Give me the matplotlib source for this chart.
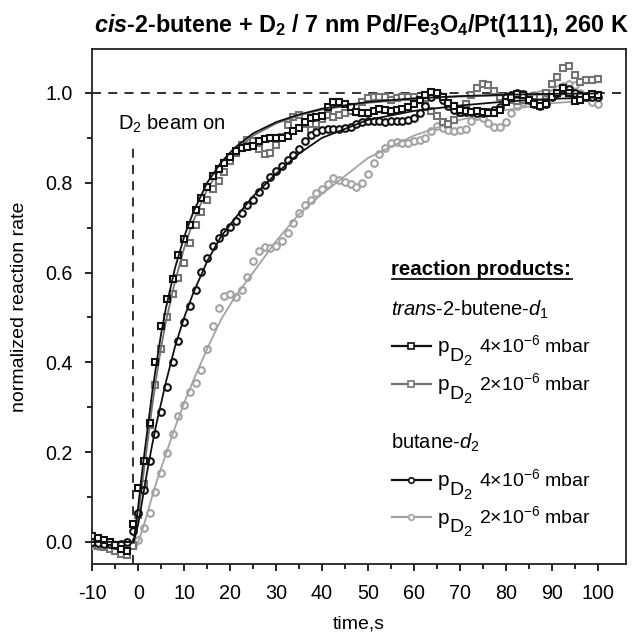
import numpy as np
import matplotlib
matplotlib.use("Agg")
import matplotlib.pyplot as plt
from matplotlib.lines import Line2D

plt.rcParams['font.family'] = ['Liberation Sans', 'DejaVu Sans']
plt.rcParams['mathtext.fontset'] = 'custom'
plt.rcParams['mathtext.rm'] = 'Liberation Sans'
plt.rcParams['mathtext.it'] = 'Liberation Sans:italic'
plt.rcParams['mathtext.bf'] = 'Liberation Sans:bold'
plt.rcParams['mathtext.bfit'] = 'Liberation Sans:italic:bold'
plt.rcParams['axes.unicode_minus'] = False

# sampling times of the measured points (s)
t = np.arange(-10, 100.01, 1.25)

# trans-2-butene-d1, p(D2) = 4e-6 mbar
trans_hi = [0.012, 0.008, 0.004, 0.0, -0.008, -0.015, -0.02, 0.04,
            0.12, 0.18, 0.265, 0.40, 0.48, 0.54, 0.585, 0.638,
            0.675, 0.705, 0.74, 0.765, 0.79, 0.815, 0.83, 0.845,
            0.857, 0.87, 0.878, 0.879, 0.882, 0.892, 0.897, 0.90,
            0.90, 0.90, 0.905, 0.916, 0.923, 0.935, 0.944, 0.946,
            0.948, 0.968, 0.98, 0.981, 0.976, 0.968, 0.958, 0.955,
            0.955, 0.96, 0.965, 0.962, 0.96, 0.962, 0.965, 0.968,
            0.975, 0.985, 0.995, 1.003, 1.0, 0.99, 0.978, 0.97,
            0.962, 0.96, 0.958, 0.96, 0.958, 0.955, 0.955, 0.962,
            0.98, 0.992, 0.998, 0.995, 0.985, 0.975, 0.972, 0.975,
            0.99, 1.0, 1.012, 1.0, 0.982, 0.985, 0.99, 0.998,
            0.995]
# trans-2-butene-d1, p(D2) = 2e-6 mbar
trans_lo = [-0.005, -0.01, -0.012, -0.015, -0.02, -0.028, -0.03, -0.01,
            0.06, 0.13, 0.26, 0.35, 0.43, 0.50, 0.552, 0.588,
            0.622, 0.665, 0.705, 0.735, 0.762, 0.785, 0.805, 0.825,
            0.848, 0.866, 0.883, 0.896, 0.892, 0.876, 0.863, 0.866,
            0.884, 0.902, 0.928, 0.946, 0.95, 0.93, 0.918, 0.932,
            0.942, 0.95, 0.946, 0.95, 0.955, 0.96, 0.968, 0.98,
            0.988, 0.99, 0.992, 0.99, 0.985, 0.988, 0.99, 0.99,
            0.99, 0.985, 0.975, 0.96, 0.948, 0.935, 0.932, 0.94,
            0.955, 0.975, 0.995, 1.01, 1.02, 1.018, 1.005, 0.99,
            0.985, 0.985, 0.982, 0.985, 0.99, 0.993, 0.99, 1.0,
            1.02, 1.035, 1.055, 1.06, 1.04, 1.025, 1.03, 1.03,
            1.032]
# butane-d2, p(D2) = 4e-6 mbar
but_hi = [0.0, -0.003, -0.005, -0.005, -0.008, -0.005, 0.0, 0.024,
          0.065, 0.116, 0.18, 0.24, 0.29, 0.345, 0.40, 0.448,
          0.49, 0.525, 0.56, 0.602, 0.632, 0.66, 0.677, 0.69,
          0.702, 0.715, 0.733, 0.75, 0.762, 0.78, 0.796, 0.813,
          0.826, 0.838, 0.85, 0.862, 0.876, 0.893, 0.906, 0.914,
          0.917, 0.919, 0.92, 0.92, 0.922, 0.925, 0.93, 0.935,
          0.937, 0.938, 0.937, 0.936, 0.937, 0.937, 0.938, 0.94,
          0.945, 0.955, 0.97, 0.99, 0.998, 0.985, 0.97, 0.962,
          0.958, 0.958, 0.958, 0.956, 0.955, 0.958, 0.962, 0.968,
          0.99, 0.996, 1.0, 0.998, 0.985, 0.975, 0.97, 0.975,
          0.99, 1.0, 1.01, 1.008, 1.0, 0.995, 0.99, 0.99,
          0.99]
# butane-d2, p(D2) = 2e-6 mbar
but_lo = [-0.008, -0.01, -0.01, -0.012, -0.012, -0.012, -0.01, -0.008,
          0.005, 0.03, 0.064, 0.11, 0.153, 0.198, 0.24, 0.28,
          0.304, 0.334, 0.355, 0.382, 0.43, 0.48, 0.522, 0.548,
          0.553, 0.545, 0.56, 0.59, 0.625, 0.648, 0.657, 0.654,
          0.66, 0.67, 0.688, 0.71, 0.732, 0.75, 0.762, 0.777,
          0.787, 0.797, 0.81, 0.806, 0.801, 0.797, 0.79, 0.80,
          0.82, 0.845, 0.865, 0.877, 0.888, 0.89, 0.889, 0.888,
          0.892, 0.896, 0.90, 0.915, 0.926, 0.922, 0.918, 0.916,
          0.917, 0.92, 0.937, 0.948, 0.945, 0.933, 0.925, 0.924,
          0.935, 0.955, 0.97, 0.98, 0.99, 0.995, 0.998, 1.0,
          1.0, 1.008, 1.015, 1.02, 1.018, 1.0, 0.99, 0.98,
          0.975]

# fitted curves
fit_t = [-10, -1, 0, 1, 2, 3, 4, 5, 6, 8, 10, 12, 15, 18, 21, 25,
         30, 35, 40, 50, 60, 70, 80, 90, 100]
fit_trans_hi = [0, 0, 0.08, 0.17, 0.25, 0.33, 0.40, 0.465, 0.52, 0.61, 0.68,
                0.735, 0.80, 0.845, 0.878, 0.91, 0.935, 0.952, 0.965, 0.98,
                0.988, 0.993, 0.996, 0.998, 0.999]
fit_trans_lo = [0, 0, 0.06, 0.14, 0.22, 0.30, 0.37, 0.435, 0.49, 0.58, 0.655,
                0.715, 0.785, 0.835, 0.87, 0.905, 0.932, 0.95, 0.963, 0.978,
                0.987, 0.992, 0.995, 0.997, 0.998]
fit_but_hi = [0, 0, 0.04, 0.10, 0.16, 0.215, 0.265, 0.31, 0.355, 0.435, 0.50,
              0.555, 0.625, 0.68, 0.72, 0.77, 0.82, 0.865, 0.90, 0.94,
              0.96, 0.972, 0.981, 0.987, 0.99]
fit_but_lo = [0, 0, 0.0, 0.03, 0.065, 0.10, 0.135, 0.165, 0.195, 0.255, 0.31,
              0.36, 0.43, 0.495, 0.545, 0.60, 0.67, 0.73, 0.775, 0.855,
              0.905, 0.94, 0.962, 0.977, 0.985]

BLACK = '#111111'
GRAY = '#737373'
LIGHT = '#a3a3a3'

fig = plt.figure(figsize=(6.35, 6.37), dpi=100)
ax = fig.add_axes([0.1454, 0.1141, 0.8405, 0.809])

mk = dict(markersize=4.8, markeredgewidth=1.5, markerfacecolor='white', linestyle='none')
series = [
    (but_lo, fit_but_lo, LIGHT, 'o'),
    (trans_lo, fit_trans_lo, GRAY, 's'),
    (but_hi, fit_but_hi, BLACK, 'o'),
    (trans_hi, fit_trans_hi, BLACK, 's'),
]
for i, (ys, fit, c, m) in enumerate(series):
    ax.plot(t, ys, marker=m, color=c, markeredgecolor=c, zorder=3 + i, **mk)
    ax.plot(fit_t, fit, color=c, lw=1.3, zorder=3 + i)

ax.axhline(1.0, color='#222222', lw=1.3, ls=(0, (5, 4)), zorder=2)
ax.plot([-1.2, -1.2], [-0.05, 0.88], color='#222222', lw=1.3, ls=(0, (5, 4)), zorder=2)
ax.text(-4.4, 0.918, 'D$_2$ beam on', fontsize=14.5, ha='left', va='baseline')

ax.set_xlim(-10, 106.2)
ax.set_ylim(-0.05, 1.098)
ax.set_xticks(np.arange(-10, 101, 10))
ax.set_xticks(np.arange(-5, 101, 10), minor=True)
ax.set_yticks(np.arange(0, 1.01, 0.2))
ax.set_yticks(np.arange(0.1, 1.0, 0.2), minor=True)
ax.set_yticklabels(['0.0', '0.2', '0.4', '0.6', '0.8', '1.0'])
ax.tick_params(which='major', length=5.3, width=1.2, labelsize=14.2, direction='out', pad=9)
ax.tick_params(which='minor', length=3.5, width=1.2, direction='out')
for s in ax.spines.values():
    s.set_linewidth(1.3)
    s.set_color('#222222')

ax.set_xlabel('time,s', fontsize=14, labelpad=9)
ax.set_ylabel('normalized reaction rate', fontsize=14, labelpad=12)

fig.text(0.569, 1 - 32.3 / 637,
         r'$\mathbfit{cis}$-2-butene + D$_\mathbf{2}$ / 7 nm Pd/Fe$_\mathbf{3}$O$_\mathbf{4}$/Pt(111), 260 K',
         fontsize=16.8, fontweight='bold', ha='center', va='baseline')


# legend drawn by hand (pixel positions of the original layout)
def fx(px):
    return px / 635


def fy(py):
    return 1 - py / 637


fig.text(fx(391), fy(275), 'reaction products:', fontsize=14.8, fontweight='bold', va='baseline')
fig.add_artist(Line2D([fx(391.5), fx(572)], [fy(279.5), fy(279.5)], color='#111111', lw=1.3))
fig.text(fx(391), fy(316), r'$\mathit{trans}$-2-butene-$\mathit{d}_\mathit{1}$', fontsize=14.5, va='baseline')
fig.text(fx(391), fy(449), r'butane-$\mathit{d}_\mathit{2}$', fontsize=14.5, va='baseline')

entries = [(346, BLACK, 's', '4'), (384, GRAY, 's', '2'), (480, BLACK, 'o', '4'), (517, LIGHT, 'o', '2')]
for py, c, m, p in entries:
    fig.add_artist(Line2D([fx(391.5), fx(431)], [fy(py), fy(py)], color=c, lw=1.6, zorder=5))
    fig.add_artist(Line2D([fx(411)], [fy(py)], color=c, marker=m, markersize=4.0,
                          markeredgewidth=1.2, markerfacecolor='white', zorder=6))
    fig.text(fx(437.5), fy(py + 6.5), 'p', fontsize=15, va='baseline')
    fig.text(fx(449.5), fy(py + 15), 'D', fontsize=14, va='baseline')
    fig.text(fx(463), fy(py + 19), '2', fontsize=10.5, va='baseline')
    fig.text(fx(479), fy(py + 6.5), p + '×10$^{-6}$ mbar', fontsize=14, va='baseline')

fig.savefig('out.png', dpi=100)
